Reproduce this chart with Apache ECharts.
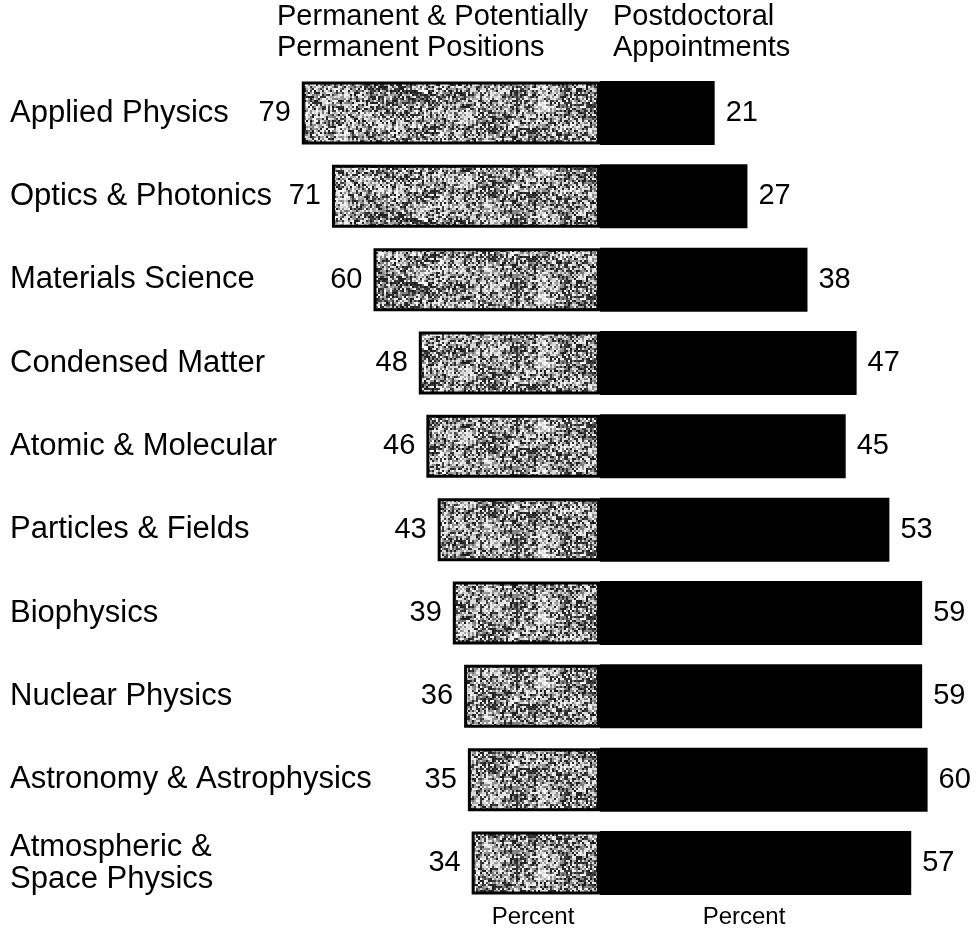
<!DOCTYPE html>
<html>
<head>
<meta charset="utf-8">
<title>Permanent vs Postdoctoral Positions by Field</title>
<script src="https://cdn.jsdelivr.net/npm/echarts@6/dist/echarts.min.js"></script>
<style>
  html, body { margin: 0; padding: 0; background: #fff; }
  #chart { width: 976px; height: 929px; }
</style>
</head>
<body>
<div id="chart"></div>
<script>
// Fields, top to bottom
const fields = [
  'Applied Physics',
  'Optics & Photonics',
  'Materials Science',
  'Condensed Matter',
  'Atomic & Molecular',
  'Particles & Fields',
  'Biophysics',
  'Nuclear Physics',
  'Astronomy & Astrophysics',
  'Atmospheric &\nSpace Physics'
];
// Percent in permanent & potentially permanent positions
const permanent = [79, 71, 60, 48, 46, 43, 39, 36, 35, 34];
// Percent in postdoctoral appointments
const postdoc = [21, 27, 38, 47, 45, 53, 59, 59, 60, 57];

const FONT = '"Liberation Sans", Arial, Helvetica, sans-serif';

// Mottled, dithered grey fill for the permanent-position bars (seeded so it is stable)
function makeSpeckle() {
  const w = 160, h = 32, scale = 2;
  const small = document.createElement('canvas');
  small.width = w; small.height = h;
  const sctx = small.getContext('2d');
  const img = sctx.createImageData(w, h);
  let s = 97531;
  const rnd = () => {
    s |= 0; s = (s + 0x6D2B79F5) | 0;
    let t = Math.imul(s ^ (s >>> 15), 1 | s);
    t = (t + Math.imul(t ^ (t >>> 7), 61 | t)) ^ t;
    return ((t ^ (t >>> 14)) >>> 0) / 4294967296;
  };
  // coarse blotch field, smoothly interpolated
  const gx = 14, gy = 5, cw = w / (gx - 1), ch = h / (gy - 1);
  const field = [];
  for (let j = 0; j < gy; j++) {
    const row = [];
    for (let i = 0; i < gx; i++) row.push(rnd());
    field.push(row);
  }
  for (let j = 0; j < gy; j++) field[j][gx - 1] = field[j][0];
  const sample = (x, y) => {
    const fx = x / cw, fy = y / ch;
    const i = Math.min(gx - 2, Math.floor(fx)), j = Math.min(gy - 2, Math.floor(fy));
    const u = fx - i, v = fy - j;
    const a = field[j][i], b = field[j][i + 1], c2 = field[j + 1][i], d = field[j + 1][i + 1];
    return (a * (1 - u) + b * u) * (1 - v) + (c2 * (1 - u) + d * u) * v;
  };
  // fine vertical streaks
  const cols = [];
  for (let x = 0; x < w; x++) cols.push(rnd() - 0.5);
  for (let y = 0; y < h; y++) {
    for (let x = 0; x < w; x++) {
      const p = 0.16 + 0.45 * sample(x, y) + 0.18 * cols[x];
      const r = rnd();
      let v;
      if (r < p) v = 205 + rnd() * 50;
      else if (r < p + 0.32) v = 115 + rnd() * 60;
      else v = 20 + rnd() * 50;
      const k = (y * w + x) * 4;
      img.data[k] = img.data[k + 1] = img.data[k + 2] = v;
      img.data[k + 3] = 255;
    }
  }
  sctx.putImageData(img, 0, 0);
  const c = document.createElement('canvas');
  c.width = w * scale; c.height = h * scale;
  const ctx = c.getContext('2d');
  ctx.imageSmoothingEnabled = false;
  ctx.drawImage(small, 0, 0, w * scale, h * scale);
  return c;
}

const chart = echarts.init(document.getElementById('chart'), null, { renderer: 'canvas' });

const gridTop = 71.3, gridHeight = 833.4;

chart.setOption({
  backgroundColor: '#fff',
  animation: false,
  grid: [
    { left: 298, width: 302, top: gridTop, height: gridHeight },
    { left: 600, width: 327.6, top: gridTop, height: gridHeight }
  ],
  xAxis: [
    { gridIndex: 0, type: 'value', min: 0, max: 80, inverse: true, show: false },
    { gridIndex: 1, type: 'value', min: 0, max: 60, show: false }
  ],
  yAxis: [
    {
      gridIndex: 0, type: 'category', data: fields, inverse: true, position: 'left',
      axisLine: { show: false }, axisTick: { show: false }, splitLine: { show: false },
      axisLabel: {
        align: 'left', margin: 288, color: '#000', fontFamily: FONT, fontSize: 31,
        lineHeight: 32, padding: [6, 0, 0, 0]
      }
    },
    {
      gridIndex: 1, type: 'category', data: fields, inverse: true, show: false
    }
  ],
  series: [
    {
      name: 'Permanent & Potentially Permanent Positions',
      type: 'bar', xAxisIndex: 0, yAxisIndex: 0, data: permanent, barWidth: 63,
      itemStyle: {
        color: { image: makeSpeckle(), repeat: 'repeat' },
        borderColor: '#000', borderWidth: 3
      },
      label: {
        show: true, position: 'left', distance: 11, color: '#000',
        fontFamily: FONT, fontSize: 29
      }
    },
    {
      name: 'Postdoctoral Appointments',
      type: 'bar', xAxisIndex: 1, yAxisIndex: 1, data: postdoc, barWidth: 64,
      itemStyle: { color: '#000' },
      label: {
        show: true, position: 'right', distance: 11, color: '#000',
        fontFamily: FONT, fontSize: 29
      }
    }
  ],
  graphic: [
    { type: 'text', style: { x: 277, y: 17, text: 'Permanent & Potentially', font: '29px ' + FONT, fill: '#000', textVerticalAlign: 'middle' } },
    { type: 'text', style: { x: 277, y: 48, text: 'Permanent Positions', font: '29px ' + FONT, fill: '#000', textVerticalAlign: 'middle' } },
    { type: 'text', style: { x: 613, y: 17, text: 'Postdoctoral', font: '29px ' + FONT, fill: '#000', textVerticalAlign: 'middle' } },
    { type: 'text', style: { x: 613, y: 48, text: 'Appointments', font: '29px ' + FONT, fill: '#000', textVerticalAlign: 'middle' } },
    { type: 'text', style: { x: 533, y: 917, text: 'Percent', font: '24px ' + FONT, fill: '#000', textAlign: 'center', textVerticalAlign: 'middle' } },
    { type: 'text', style: { x: 744, y: 917, text: 'Percent', font: '24px ' + FONT, fill: '#000', textAlign: 'center', textVerticalAlign: 'middle' } }
  ]
});
</script>
</body>
</html>
